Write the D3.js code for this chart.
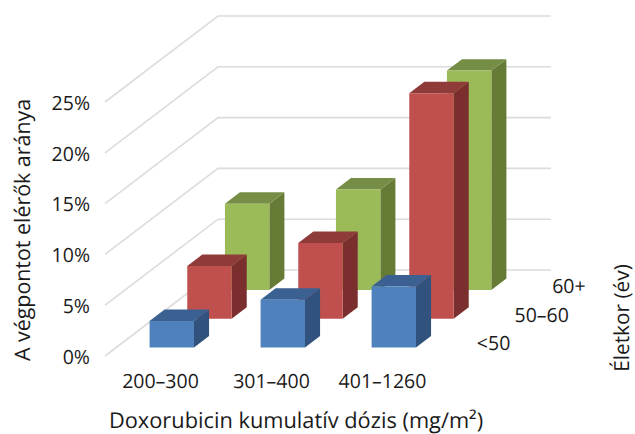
<!DOCTYPE html>
<html>
<head>
<meta charset="utf-8">
<script src="https://cdn.jsdelivr.net/npm/d3@7"></script>
<style>
    html, body { margin: 0; padding: 0; background: #fff; }
    text { font-family: "Open Sans", sans-serif; fill: #1a1a1a; text-rendering: geometricPrecision; }
</style>
</head>
<body>
<div id="chart"></div>
<script>
var categories = ["200–300", "301–400", "401–1260"];
var ages = ["<50", "50–60", "60+"];
var under50 = [2.6, 4.7, 6.0];
var age50to60 = [5.2, 7.45, 22.2];
var over60 = [8.5, 9.9, 21.6];
var yTicks = [0, 5, 10, 15, 20, 25];

var width = 635, height = 434;

// front floor edge and how far the depth axis runs to the back wall
var floor = { left: 105, right: 438, bottom: 356, top: 102 },
    depthX = 113,
    depthY = 86;

var faces = {
    "<50": { front: "#4f81bd", top: "#3a6191", side: "#30527c" },
    "50–60": { front: "#c0504d", top: "#8f3b39", side: "#7a2f2e" },
    "60+": { front: "#9bbb59", top: "#758d44", side: "#667b36" }
};

var x = d3.scaleBand()
    .domain(categories)
    .range([floor.left, floor.right])
    .paddingInner(0.6)
    .paddingOuter(0.3);

var y = d3.scaleLinear()
    .domain([0, 25])
    .range([floor.bottom, floor.top]);

// 0 = front of the floor, 1 = back wall
var depth = d3.scaleBand()
    .domain(ages)
    .range([0, 1])
    .paddingInner(0.6)
    .paddingOuter(0.3);

var svg = d3.select("#chart").append("svg")
    .attr("width", width)
    .attr("height", height);

svg.append("g").selectAll("path")
    .data(yTicks)
    .enter().append("path")
    .attr("d", function (d) {
        return "M" + floor.left + "," + y(d)
            + "L" + (floor.left + depthX) + "," + (y(d) - depthY)
            + "L" + (floor.right + depthX) + "," + (y(d) - depthY);
    })
    .attr("fill", "none")
    .attr("stroke", "#dcdcdc")
    .attr("stroke-width", 1.6);

var rows = [
    { age: "60+", values: over60 },
    { age: "50–60", values: age50to60 },
    { age: "<50", values: under50 }
];

function pt(px, py, d) {
    return (px + d * depthX) + "," + (py - d * depthY);
}

var row = svg.append("g").selectAll(".row")
    .data(rows)
    .enter().append("g")
    .attr("class", "row");

var bar = row.selectAll("g")
    .data(function (r) {
        return r.values.map(function (v, i) {
            return { age: r.age, cat: categories[i], value: v };
        });
    })
    .enter().append("g");

// side face
bar.append("polygon")
    .attr("points", function (d) {
        var d0 = depth(d.age), d1 = d0 + depth.bandwidth(), xr = x(d.cat) + x.bandwidth();
        return [pt(xr, y(0), d0), pt(xr, y(0), d1), pt(xr, y(d.value), d1), pt(xr, y(d.value), d0)].join(" ");
    })
    .attr("fill", function (d) { return faces[d.age].side; });

// top face
bar.append("polygon")
    .attr("points", function (d) {
        var d0 = depth(d.age), d1 = d0 + depth.bandwidth(), xl = x(d.cat), xr = xl + x.bandwidth();
        return [pt(xl, y(d.value), d0), pt(xl, y(d.value), d1), pt(xr, y(d.value), d1), pt(xr, y(d.value), d0)].join(" ");
    })
    .attr("fill", function (d) { return faces[d.age].top; });

// front face
bar.append("polygon")
    .attr("points", function (d) {
        var d0 = depth(d.age), xl = x(d.cat), xr = xl + x.bandwidth();
        return [pt(xl, y(0), d0), pt(xr, y(0), d0), pt(xr, y(d.value), d0), pt(xl, y(d.value), d0)].join(" ");
    })
    .attr("fill", function (d) { return faces[d.age].front; });

var yAxis = d3.axisLeft(y)
    .tickValues(yTicks)
    .tickSize(0)
    .tickPadding(15)
    .tickFormat(function (d) { return d + "%"; });

var yG = svg.append("g")
    .attr("transform", "translate(" + floor.left + ",1)")
    .call(yAxis);

var xAxis = d3.axisBottom(x)
    .tickSize(0)
    .tickPadding(18);

var xG = svg.append("g")
    .attr("transform", "translate(0," + floor.bottom + ")")
    .call(xAxis);

yG.select(".domain").remove();
xG.select(".domain").remove();
svg.selectAll(".tick text")
    .style("font-size", "19.5px")
    .style("font-family", '"Open Sans", sans-serif')
    .attr("fill", "#1a1a1a");

// age labels sit along the right floor edge
svg.append("g").selectAll("text")
    .data(ages)
    .enter().append("text")
    .attr("x", function (d) { return floor.right + (depth(d) + depth.bandwidth() / 2) * depthX + 20; })
    .attr("y", function (d) { return floor.bottom - (depth(d) + depth.bandwidth() / 2) * depthY + 2; })
    .attr("dy", ".35em")
    .style("font-size", "19.5px")
    .text(function (d) { return d; });

svg.append("text")
    .attr("x", 296)
    .attr("y", 428)
    .attr("text-anchor", "middle")
    .style("font-size", "21.8px")
    .text("Doxorubicin kumulatív dózis (mg/m²)");

svg.append("text")
    .attr("transform", "translate(30,230) rotate(-90)")
    .attr("text-anchor", "middle")
    .style("font-size", "21.4px")
    .text("A végpontot elérők aránya");

svg.append("text")
    .attr("transform", "translate(629,318) rotate(-90)")
    .attr("text-anchor", "middle")
    .style("font-size", "20.8px")
    .text("Életkor (év)");
</script>
</body>
</html>
